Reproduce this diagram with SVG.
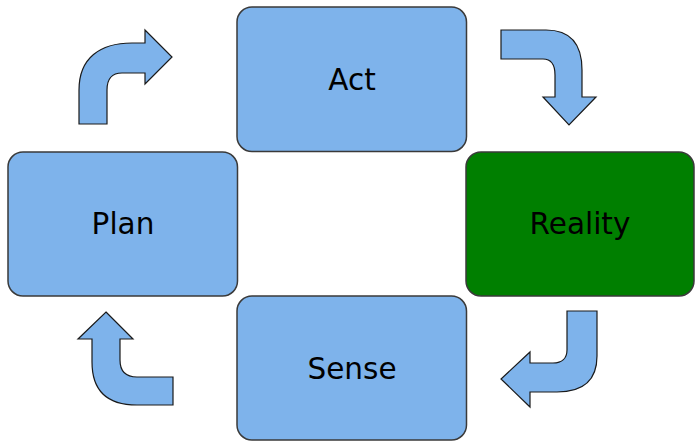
<svg xmlns="http://www.w3.org/2000/svg" width="695" height="441" viewBox="0 0 695 441">
<style>
.box{fill:#7eb3eb;stroke:#3a3a3a;stroke-width:1.5}
.green{fill:#007f00}
.arrow{fill:#7eb3eb;stroke:#1a1a1a;stroke-width:1.2;stroke-linejoin:miter}
.lbl{font-family:"DejaVu Sans",sans-serif;font-size:29.5px;fill:#000;text-anchor:middle}
</style>
<rect width="695" height="441" fill="#fff"/>
<g id="act"><rect class="box" x="237" y="7" width="229.5" height="144.5" rx="15"/><text class="lbl" x="352" y="90">Act</text></g>
<g id="plan"><rect class="box" x="8" y="152" width="229.5" height="144" rx="15"/><text class="lbl" x="123" y="234">Plan</text></g>
<g id="reality"><rect class="box green" x="466" y="152" width="228" height="144" rx="15"/><text class="lbl" x="580" y="234">Reality</text></g>
<g id="sense"><rect class="box" x="237" y="296" width="229.5" height="144" rx="15"/><text class="lbl" x="352" y="379">Sense</text></g>
<g id="connectors">
<path class="arrow" d="M79,124 V90 C79,58 100,43 132,43 H145 V30 L172,57 L145,84 V73 H122 C113,73 107,78 107,90 V124 Z"/>
<path class="arrow" d="M501,30 H546 C570,30 582,44 582,70 V97 H596 L569,125 L543,97 H555 V75 C555,65 551,59 543,59 H501 Z"/>
<path class="arrow" d="M567,311 H597 V356 C597,382 582,392 557,392 H530 V407 L501,379 L530,352 V363 H553 C562,363 567,358 567,350 Z"/>
<path class="arrow" d="M106,312 L133,339 H120 V360 C120,371 126,377 137,377 H173 V405 H137 C106,405 92,390 92,362 V339 H78 Z"/>
</g>
</svg>
